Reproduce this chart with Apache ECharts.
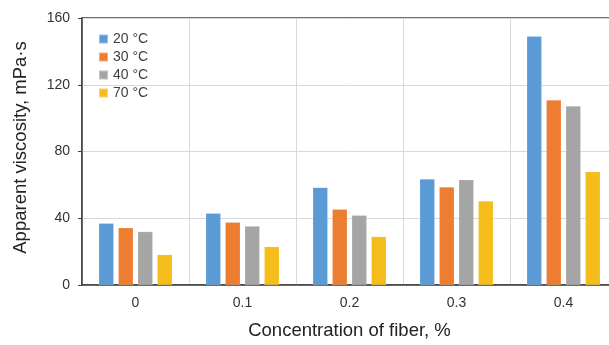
<!DOCTYPE html>
<html>
<head>
<meta charset="utf-8">
<script src="https://cdn.jsdelivr.net/npm/echarts@6/dist/echarts.min.js"></script>
<style>
  html, body { margin: 0; padding: 0; background: #fff; overflow: hidden; }
  #chart { width: 622px; height: 345px; }
</style>
</head>
<body>
<div id="chart"></div>
<script>
const categories = ['0', '0.1', '0.2', '0.3', '0.4'];
const seriesNames = ['20 °C', '30 °C', '40 °C', '70 °C'];
const temp20 = [37, 43, 58.5, 63.5, 149];
const temp30 = [34.3, 37.6, 45.4, 58.7, 110.8];
const temp40 = [32, 35.3, 41.8, 63.1, 107.2];
const temp70 = [18.2, 23, 29, 50.3, 67.9];
const yTicks = [0, 40, 80, 120, 160];

const COLORS = ['#5b9bd5', '#ed7d31', '#a5a5a5', '#f5bd1b'];
const FONT = 'Liberation Sans, Arial, sans-serif';

const chart = echarts.init(document.getElementById('chart'), null, { renderer: 'canvas' });

const values = [temp20, temp30, temp40, temp70];

const option = {
  animation: false,
  color: COLORS,
  textStyle: { fontFamily: FONT },
  // plot runs past the right edge of the 609px window, like the source image
  grid: {
    left: 82, top: 18, width: 535, height: 267,
    show: true, borderColor: '#404040', borderWidth: 1.5, backgroundColor: 'transparent'
  },
  legend: {
    orient: 'vertical',
    left: 93, top: 27,
    itemWidth: 9, itemHeight: 9, itemGap: 4,
    icon: 'rect',
    textStyle: { fontSize: 14, color: '#404040', fontFamily: FONT },
    data: seriesNames
  },
  xAxis: {
    type: 'category',
    data: categories,
    name: 'Concentration of fiber, %',
    nameLocation: 'middle',
    nameGap: 36,
    nameTextStyle: { fontSize: 18.5, color: '#222', fontFamily: FONT },
    axisLine: { show: true, lineStyle: { color: '#404040', width: 1.5 } },
    axisTick: { show: false },
    axisLabel: { fontSize: 14, color: '#333', margin: 11, fontFamily: FONT },
    splitLine: { show: true, lineStyle: { color: '#d9d9d9', width: 1 } }
  },
  yAxis: {
    type: 'value',
    min: yTicks[0],
    max: yTicks[yTicks.length - 1],
    interval: 40,
    name: 'Apparent viscosity, mPa·s',
    nameLocation: 'middle',
    nameGap: 52,
    nameTextStyle: { fontSize: 18.5, color: '#222', fontFamily: FONT, padding: [0, 0, 0, 8] },
    axisLine: { show: true, lineStyle: { color: '#404040', width: 1.5 } },
    axisTick: { show: true, length: 4, lineStyle: { color: '#404040' } },
    axisLabel: { fontSize: 14, color: '#333', margin: 12, fontFamily: FONT },
    splitLine: { show: true, lineStyle: { color: '#d9d9d9', width: 1 } }
  },
  series: seriesNames.map((name, i) => ({
    name,
    type: 'bar',
    data: values[i],
    barWidth: 15,
    barGap: '30%',
    itemStyle: { color: COLORS[i], borderColor: 'rgba(255,255,255,0.35)', borderWidth: 0.5 }
  }))
};

chart.setOption(option);
</script>
</body>
</html>
